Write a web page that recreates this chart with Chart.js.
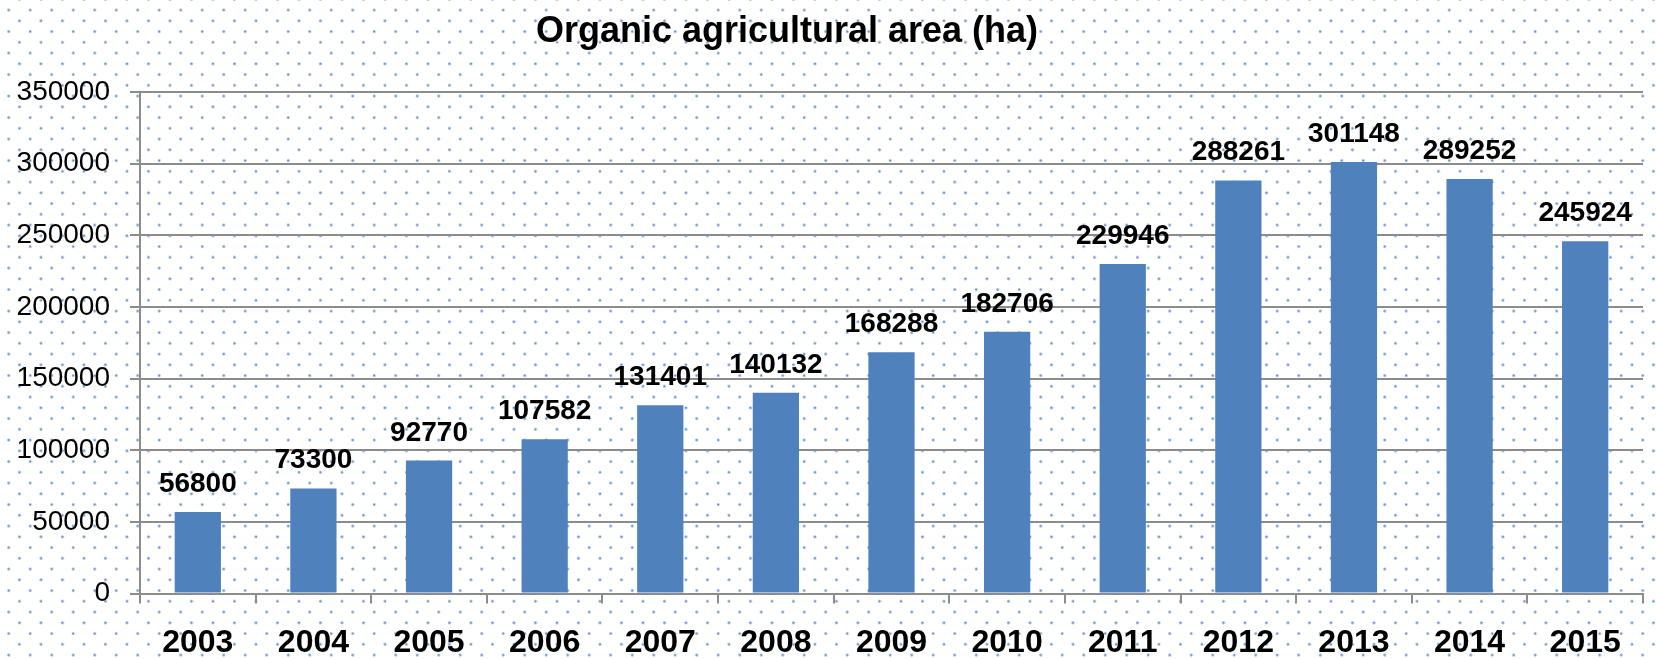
<!DOCTYPE html>
<html>
<head>
<meta charset="utf-8">
<script src="https://cdn.jsdelivr.net/npm/chart.js@4/dist/chart.umd.min.js"></script>
<style>
  html, body { margin: 0; padding: 0; background: #fff; }
  #wrap { width: 1656px; height: 659px; }
</style>
</head>
<body>
<div id="wrap"><canvas id="barchart" width="1656" height="659"></canvas></div>
<script>
const years = ['2003', '2004', '2005', '2006', '2007', '2008', '2009', '2010', '2011', '2012', '2013', '2014', '2015'];
const areaHa = [56800, 73300, 92770, 107582, 131401, 140132, 168288, 182706, 229946, 288261, 301148, 289252, 245924];
const yTicks = [0, 50000, 100000, 150000, 200000, 250000, 300000, 350000];
const chartTitle = 'Organic agricultural area (ha)';

const FONT = '"Liberation Sans", Arial, sans-serif';
const gridGrey = '#8c8c8c';

// dotted paper background
function makeDots(ctx) {
  const tile = document.createElement('canvas');
  tile.width = 43;
  tile.height = 43;
  const t = tile.getContext('2d');
  t.fillStyle = '#5d8fcf';
  const pts = [[0, 0], [21.5, 0], [10.75, 10.75], [32.25, 10.75], [0, 21.5], [21.5, 21.5], [10.75, 32.25], [32.25, 32.25]];
  pts.forEach(([x, y]) => {
    [[0, 0], [43, 0], [0, 43], [43, 43]].forEach(([dx, dy]) => {
      t.beginPath();
      t.arc(x + dx + 0.5, y + dy + 0.5, 1.3, 0, Math.PI * 2);
      t.fill();
    });
  });
  return ctx.createPattern(tile, 'repeat');
}

const dotsBackground = {
  id: 'dotsBackground',
  beforeDraw(chart) {
    const ctx = chart.ctx;
    ctx.save();
    ctx.fillStyle = '#ffffff';
    ctx.fillRect(0, 0, chart.width, chart.height);
    const pat = makeDots(ctx);
    ctx.translate(8.2, 9.5);
    ctx.fillStyle = pat;
    ctx.fillRect(-20, -20, chart.width + 40, chart.height + 40);
    ctx.restore();
  }
};

// title sits a bit left of centre in the original, so draw it by hand
const titleText = {
  id: 'titleText',
  afterDraw(chart) {
    const ctx = chart.ctx;
    ctx.save();
    ctx.font = 'bold 36px ' + FONT;
    ctx.fillStyle = '#000';
    ctx.textAlign = 'center';
    ctx.textBaseline = 'middle';
    ctx.fillText(chartTitle, 787, 32);
    ctx.restore();
  }
};

const valueLabels = {
  id: 'valueLabels',
  afterDatasetsDraw(chart) {
    const ctx = chart.ctx;
    const meta = chart.getDatasetMeta(0);
    ctx.save();
    ctx.font = 'bold 28px ' + FONT;
    ctx.fillStyle = '#000';
    ctx.textAlign = 'center';
    ctx.textBaseline = 'alphabetic';
    meta.data.forEach((bar, i) => {
      ctx.fillText(String(areaHa[i]), bar.x, bar.y - 20);
    });
    ctx.restore();
  }
};

new Chart(document.getElementById('barchart').getContext('2d'), {
  type: 'bar',
  data: {
    labels: years,
    datasets: [{
      data: areaHa,
      backgroundColor: '#4f81bd',
      borderWidth: 0,
      categoryPercentage: 0.4,
      barPercentage: 1.0
    }]
  },
  options: {
    responsive: false,
    animation: false,
    layout: { padding: { left: 0, right: 13, top: 92, bottom: 0 } },
    plugins: {
      legend: { display: false },
      tooltip: { enabled: false },
      title: { display: false }
    },
    scales: {
      x: {
        offset: true,
        grid: {
          offset: true,
          drawOnChartArea: false,
          drawTicks: true,
          tickLength: 10,
          color: gridGrey,
          lineWidth: 2
        },
        border: { display: true, color: gridGrey, width: 2 },
        ticks: {
          color: '#000',
          padding: 20,
          maxRotation: 0,
          font: { family: FONT, size: 32, weight: 'bold' }
        },
        afterFit(scale) { scale.height = 65.5; }
      },
      y: {
        min: 0,
        max: 350000,
        afterBuildTicks(scale) {
          scale.ticks = yTicks.map(v => ({ value: v }));
        },
        grid: {
          drawTicks: true,
          tickLength: 10,
          color: gridGrey,
          lineWidth: 2
        },
        border: { display: true, color: gridGrey, width: 2 },
        ticks: {
          color: '#000',
          padding: 20,
          font: { family: FONT, size: 28 },
          callback: v => String(v)
        },
        afterFit(scale) { scale.width = 140; }
      }
    }
  },
  plugins: [dotsBackground, valueLabels, titleText]
});
</script>
</body>
</html>
